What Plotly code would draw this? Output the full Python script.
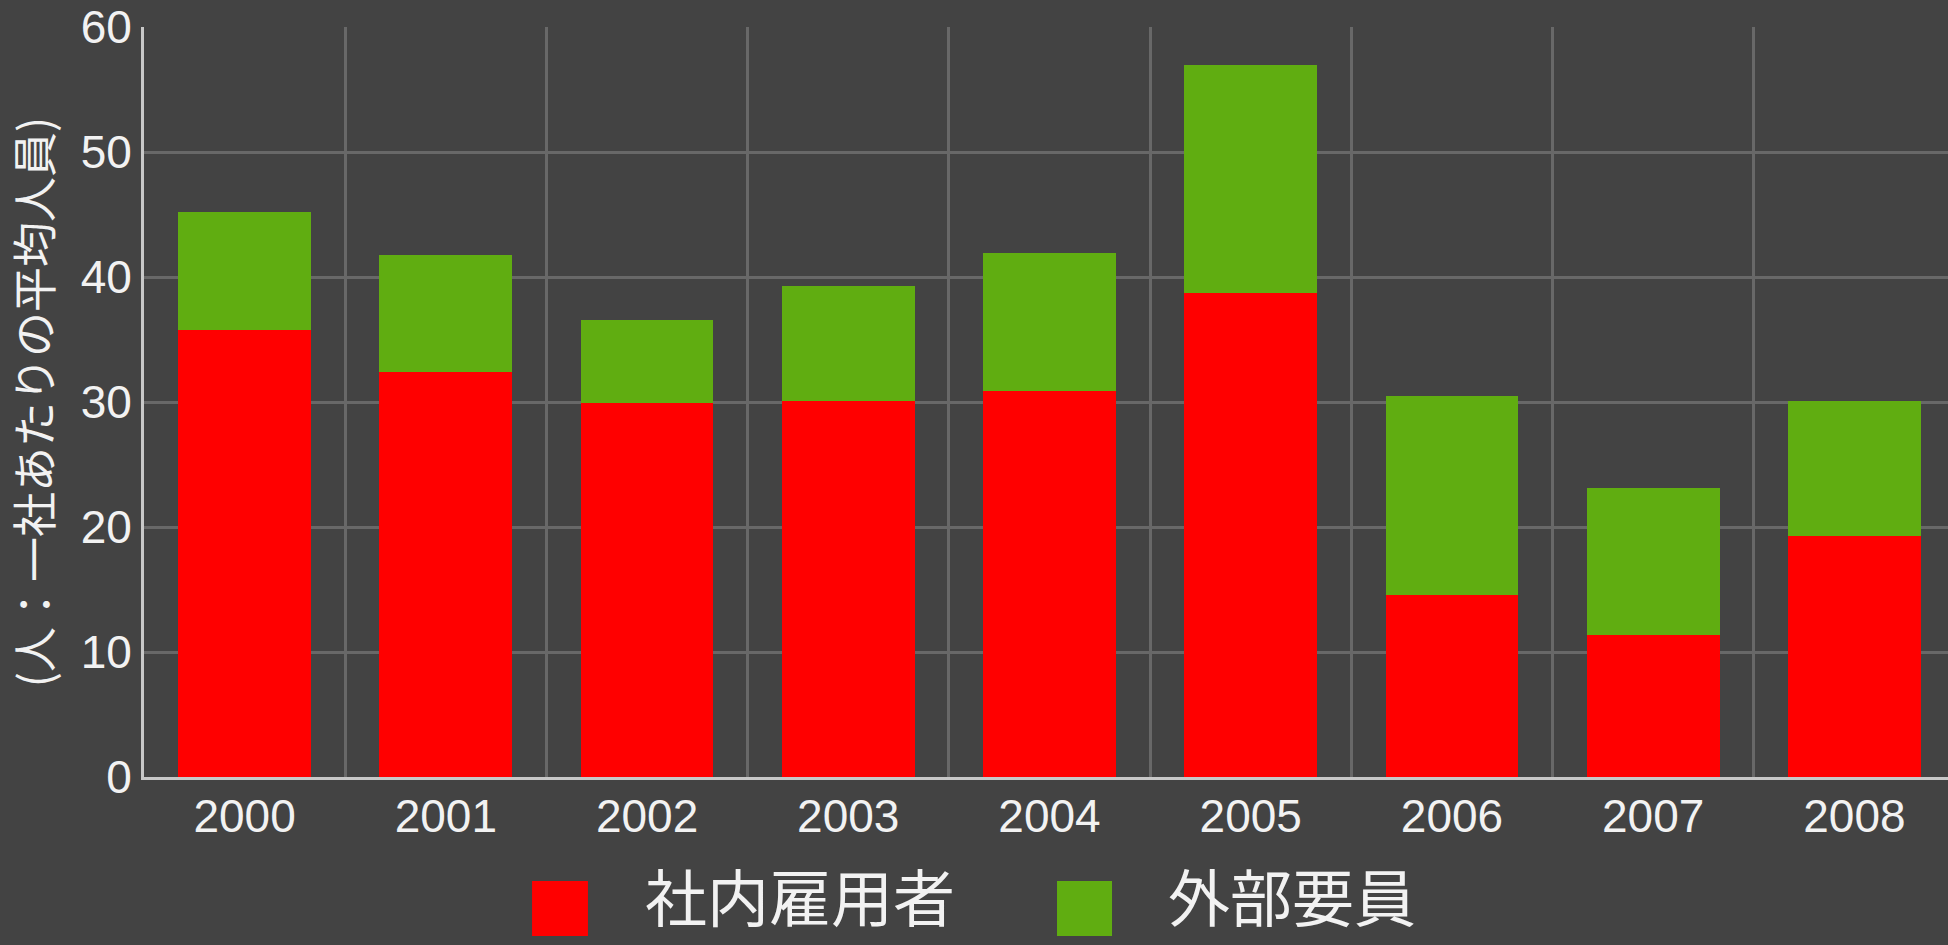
import plotly.graph_objects as go

# values (persons per company)
years = ['2000', '2001', '2002', '2003', '2004', '2005', '2006', '2007', '2008']
internal_staff = [35.8, 32.4, 29.9, 30.1, 30.9, 38.7, 14.6, 11.4, 19.3]
external_staff = [9.4, 9.4, 6.7, 9.2, 11.0, 18.3, 15.9, 11.7, 10.8]
series_names = ['社内雇用者', '外部要員']
series_colors = ['#ff0000', '#60ad11']
y_title = '(人：一社あたりの平均人員)'

bg = '#434343'
grid_color = '#686868'
axis_color = '#c8c8c8'
text_color = '#f2f2f2'
cjk_font = 'Noto Sans CJK JP'
num_font = 'Liberation Sans, Arial, sans-serif'

fig = go.Figure()
for name, vals, color in zip(series_names, [internal_staff, external_staff], series_colors):
    fig.add_trace(go.Bar(x=years, y=vals, name=name, marker_color=color,
                         marker_line_width=0, showlegend=False))

fig.update_layout(
    width=1948, height=945,
    barmode='stack', bargap=0.34,
    paper_bgcolor=bg, plot_bgcolor=bg,
    margin=dict(l=144, r=0, t=27, b=168, autoexpand=False),
    font=dict(family=num_font, color=text_color),
)
fig.update_xaxes(
    type='category', range=[-0.5, 8.465],
    tickson='boundaries', showgrid=True, gridcolor=grid_color, gridwidth=3,
    showline=True, linecolor=axis_color, linewidth=3,
    ticks='', tickfont=dict(size=46, family=num_font, color=text_color),
    ticklabelstandoff=-3, automargin=False,
)
fig.update_yaxes(
    range=[0, 60], dtick=10, showgrid=True, gridcolor=grid_color, gridwidth=3,
    zeroline=False, showline=True, linecolor=axis_color, linewidth=3,
    ticks='', tickfont=dict(size=46, family=num_font, color=text_color),
    ticklabelstandoff=0, automargin=False,
    title=dict(text=y_title, font=dict(size=45, family=cjk_font, color=text_color), standoff=14),
)

# legend drawn by hand so the swatches can be as large as in the original
legend_items = [
    (series_names[0], series_colors[0], 0.2151, 0.2461, 0.2766),
    (series_names[1], series_colors[1], 0.5061, 0.5366, 0.5665),
]
for name, color, x0, x1, xt in legend_items:
    fig.add_shape(type='rect', xref='paper', yref='paper', x0=x0, x1=x1, y0=-0.212, y1=-0.1387,
                  fillcolor=color, line_width=0)
    # anchored by its bottom so the text box stays inside the page
    fig.add_annotation(text=name, xref='paper', yref='paper', x=xt, y=-0.22,
                       xanchor='left', yanchor='bottom', showarrow=False,
                       font=dict(size=62, family=cjk_font, color=text_color))

# the page margin would push the chart 8px off the window
fig.write_html("out.html", config={'displayModeBar': False},
               post_script="document.body.style.margin='0';")
